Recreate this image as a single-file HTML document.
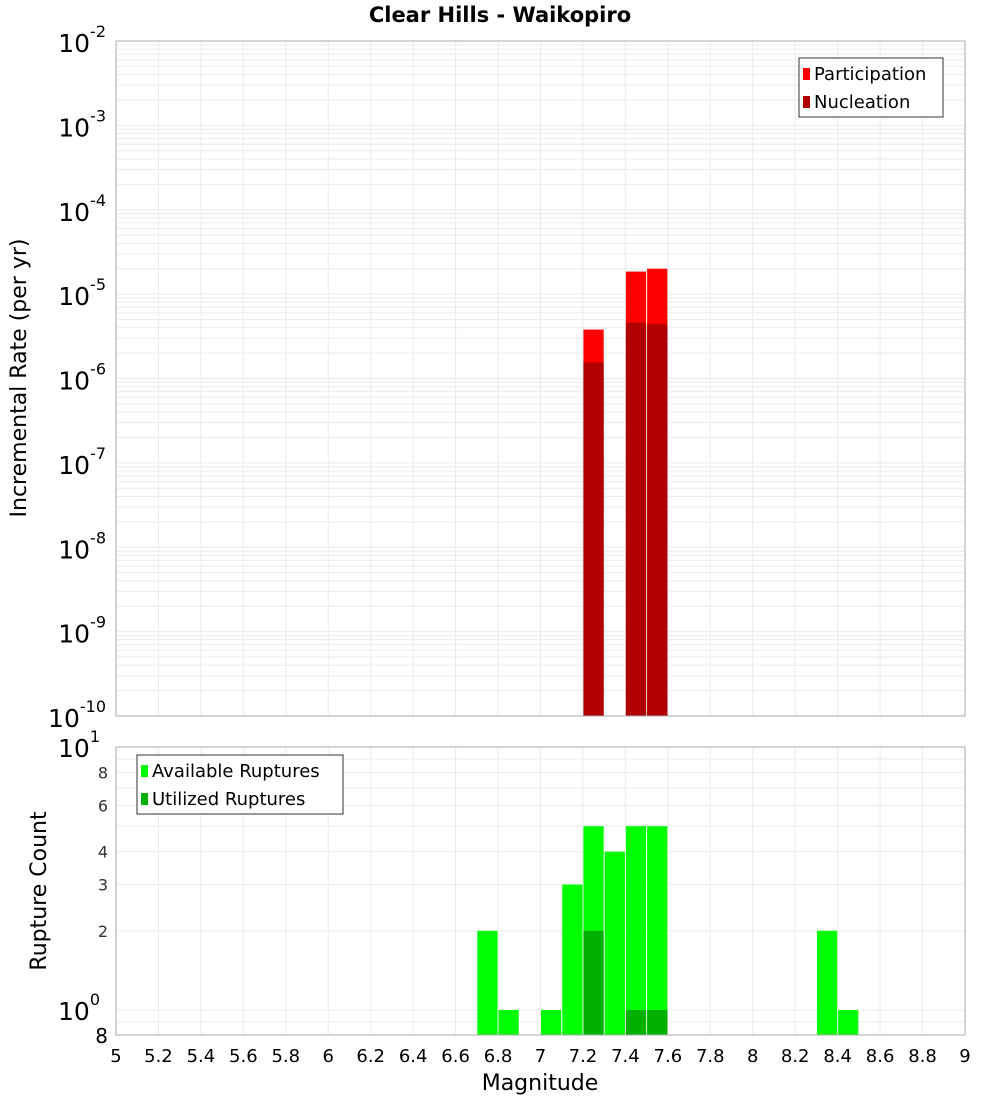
<!DOCTYPE html>
<html><head><meta charset="utf-8">
<style>
body{margin:0;background:#fff;}
svg{display:block;font-family:"DejaVu Sans","Liberation Sans",sans-serif;}
</style></head>
<body>
<svg id="c" width="1000" height="1100" xmlns="http://www.w3.org/2000/svg"></svg>
<script>
const topBins=[7.25,7.45,7.55];
const participation=[3.8e-6,1.85e-5,2.0e-5];
const nucleation=[1.55e-6,4.6e-6,4.4e-6];
const botBins=[6.75,6.85,7.05,7.15,7.25,7.35,7.45,7.55,8.35,8.45];
const available=[2,1,1,3,5,4,5,5,2,1];
const utilBins=[7.25,7.45,7.55];
const utilized=[2,1,1];
const xTicks=[5,5.2,5.4,5.6,5.8,6,6.2,6.4,6.6,6.8,7,7.2,7.4,7.6,7.8,8,8.2,8.4,8.6,8.8,9];
const topExps=[-2,-3,-4,-5,-6,-7,-8,-9,-10];
const botTicks=[8,6,4,3,2];

const NS="http://www.w3.org/2000/svg";
const svg=document.getElementById('c');
function mk(t,a,p){const e=document.createElementNS(NS,t);for(const k in a)e.setAttribute(k,a[k]);(p||svg).appendChild(e);return e;}
const X0=116,X1=965;
const xs=m=>X0+(m-5)/4*(X1-X0);
const T0=41,T1=716;
const yt=v=>T0+(-2-Math.log10(v))/8*(T1-T0);
const B0=747,B1=1035;
const yb=v=>1010-Math.log10(v)*263;

// title
let t=mk('text',{x:500,y:22,'text-anchor':'middle','font-size':21,'font-weight':'bold'});t.textContent='Clear Hills - Waikopiro';


// top grid
let g=mk('g',{});
for(let e=-10;e<-2;e++)for(let k=1;k<10;k++){const y=yt(k*Math.pow(10,e));mk('line',{x1:X0,x2:X1,y1:y,y2:y,stroke:'#ebebeb','stroke-width':1},g);}
xTicks.forEach(m=>{mk('line',{x1:xs(m),x2:xs(m),y1:T0,y2:T1,stroke:'#ebebeb'},g);mk('line',{x1:xs(m),x2:xs(m),y1:B0,y2:B1,stroke:'#ebebeb'},g);});
// bottom grid
for(const v of [0.9,1,2,3,4,5,6,7,8,9]){const y=yb(v);mk('line',{x1:X0,x2:X1,y1:y,y2:y,stroke:'#ebebeb'},g);}

// top bars
const bw=(X1-X0)/40;
topBins.forEach((m,i)=>{
 let r=mk('rect',{x:xs(m)-bw/2+0.5,y:yt(participation[i]),width:bw-1,height:T1-yt(participation[i]),fill:'#ff0000'});
 
 r=mk('rect',{x:xs(m)-bw/2+0.5,y:yt(nucleation[i]),width:bw-1,height:T1-yt(nucleation[i]),fill:'#b00000'});
 
});
botBins.forEach((m,i)=>{
 let r=mk('rect',{x:xs(m)-bw/2+0.5,y:yb(available[i]),width:bw-1,height:B1-yb(available[i]),fill:'#00ff00'});
 
});
utilBins.forEach((m,i)=>{
 let r=mk('rect',{x:xs(m)-bw/2+0.5,y:yb(utilized[i]),width:bw-1,height:B1-yb(utilized[i]),fill:'#00b000'});
 
});

// frames
mk('rect',{x:X0,y:T0,width:X1-X0,height:T1-T0,fill:'none',stroke:'#aaa'});
mk('rect',{x:X0,y:B0,width:X1-X0,height:B1-B0,fill:'none',stroke:'#aaa'});

// top y ticks
topExps.forEach(e=>{
 const y=yt(Math.pow(10,e));
 let tx=mk('text',{x:106,y:y+11,'text-anchor':'end','font-size':25});
 tx.textContent='10';
 let s=mk('tspan',{dy:-15,'font-size':16},tx);s.textContent=e;
 
});
// bottom y ticks
[[10,'1'],[1,'0']].forEach(([v,e])=>{
 const y=yb(v);
 let tx=mk('text',{x:100,y:y+10,'text-anchor':'end','font-size':25});tx.textContent='10';
 let s=mk('tspan',{dy:-15,'font-size':16},tx);s.textContent=e;
 
});
botTicks.forEach(v=>{
 let tx=mk('text',{x:108,y:yb(v)+6,'text-anchor':'end','font-size':16,fill:'#333'});tx.textContent=v;
 
});
t=mk('text',{x:108,y:1043,'text-anchor':'end','font-size':20});t.textContent='8';
// x ticks
xTicks.forEach(m=>{
 let tx=mk('text',{x:xs(m),y:1062,'text-anchor':'middle','font-size':18});tx.textContent=String(m);
 
});
t=mk('text',{x:540,y:1090,'text-anchor':'middle','font-size':22});t.textContent='Magnitude';

t=mk('text',{x:26,y:378,'text-anchor':'middle','font-size':22,transform:'rotate(-90 26 378)'});t.textContent='Incremental Rate (per yr)';

t=mk('text',{x:46,y:891,'text-anchor':'middle','font-size':22,transform:'rotate(-90 46 891)'});t.textContent='Rupture Count';


// legends
function legend(x,y,w,items,name){
 const lg=mk('g',{});
 mk('rect',{x:x,y:y,width:w,height:items.length*28+3,fill:'#fff',stroke:'#333'},lg);
 items.forEach(([c,l],i)=>{
  mk('rect',{x:x+4,y:y+10+i*28,width:7,height:12,fill:c},lg);
  const tx=mk('text',{x:x+15,y:y+22+i*28,'font-size':18},lg);tx.textContent=l;
 });
}
legend(799,58,144,[['#ff0000','Participation'],['#b00000','Nucleation']],'top-legend');
legend(137,755,206,[['#00ff00','Available Ruptures'],['#00b000','Utilized Ruptures']],'bottom-legend');
</script>
</body></html>
